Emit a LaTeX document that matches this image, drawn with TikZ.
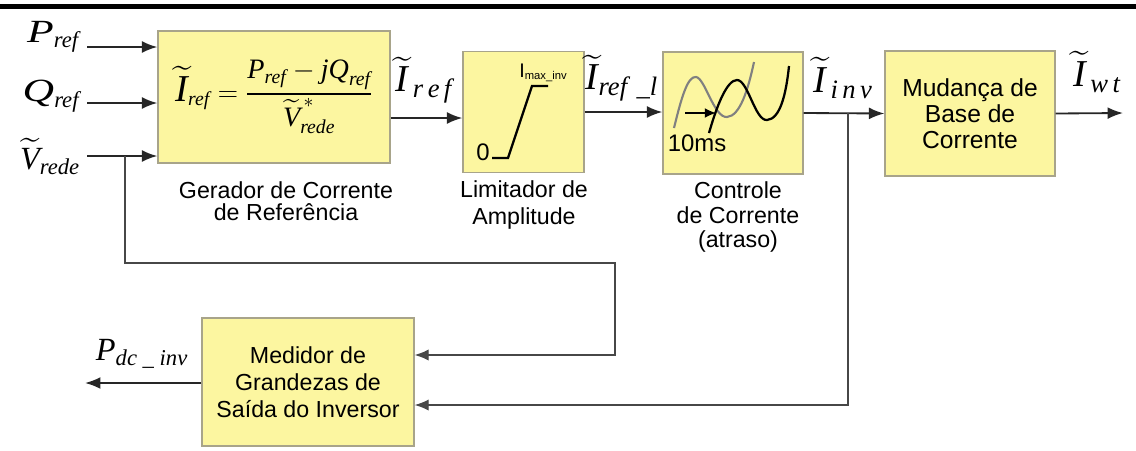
\documentclass[tikz,border=0pt]{standalone}
\usepackage{fix-cm}
\usepackage{amsmath}
\usepackage{graphicx}
\usepackage{fontspec}
\setmainfont{Liberation Serif}
\setsansfont{Liberation Sans}
\usetikzlibrary{calc, positioning, arrows.meta}
\definecolor{boxfill}{HTML}{FCF6A0}
\definecolor{boxline}{HTML}{A8A48A}
\definecolor{wire}{HTML}{262626}
\newcommand{\wideit}[1]{\scalebox{1.35}[1]{\textit{#1}}}

\begin{document}
\begin{tikzpicture}[x=0.025cm, y=-0.025cm,
    blk/.style={draw=boxline, line width=0.9pt, fill=boxfill, inner sep=0pt,
                align=center, font=\sffamily\fontsize{16.5}{19}\selectfont},
    capt/.style={align=center, inner sep=0pt, font=\sffamily\fontsize{16.5}{19}\selectfont},
    lbl/.style={inner sep=0pt, font=\fontsize{23}{26}\selectfont},
    ilbl/.style={inner sep=0pt, font=\fontsize{27}{30}\selectfont},
    arr/.style={-{Latex[length=11pt,width=8.5pt]}, line width=1.3pt, wire},
    fb/.style={-{Latex[length=10pt,width=8pt]}, line width=0.9pt, wire!85}
  ]
    \useasboundingbox (0,0) rectangle (1136,450);
    \fill[black] (0,4) rectangle (1136,8.5);

    % blocks
    \node[blk, minimum width=5.8cm, minimum height=3.3cm,
          font=\fontsize{20}{24}\selectfont] (gen) at (274,97)
      {$\mbox{\fontsize{27}{27}\selectfont$\widetilde{\textit{I}}$}_{\textit{ref}} = \dfrac{\textit{P}_{\textit{ref}} - \textit{jQ}_{\textit{ref}}}{{\widetilde{\textit{V}}_{\textit{rede}}}^{\,*}}$};
    \node[blk, minimum width=3.025cm, minimum height=3.025cm] (lim) at (523.5,112) {};
    \node[blk, minimum width=3.5cm, minimum height=3.05cm] (ctl) at (733,113) {};
    \node[blk, minimum width=4.25cm, minimum height=3.125cm,
          font=\sffamily\fontsize{17.5}{18.5}\selectfont] (mud) at (970,113.5)
      {Mudança de\\Base de\\Corrente};
    \node[blk, minimum width=5.3cm, minimum height=3.2cm] (med) at (308,382)
      {Medidor de\\Grandezas de\\Saída do Inversor};

    % captions
    \node[capt, font=\sffamily\fontsize{16.5}{15.5}\selectfont] (genc) at (286,201)
      {Gerador de Corrente\\de Referência};
    \node[capt] (limc) at (524,205) {Limitador de\\Amplitude};
    \node[capt, font=\sffamily\fontsize{16.5}{17.5}\selectfont] (ctlc) at (738,217)
      {Controle\\de Corrente\\(atraso)};

    % limiter curve
    \draw[line width=1.6pt] (492,158) -- (508,158) -- (532,86) -- (548,86);
    \node[inner sep=0pt, font=\sffamily\fontsize{17}{17}\selectfont] (zero) at (483,152) {0};
    \node[inner sep=0pt, anchor=base west, font=\sffamily\fontsize{14}{14}\selectfont] (imax) at (519,77)
      {I\raisebox{-2pt}{\fontsize{8}{8}\selectfont max\_inv}};

    % delay curves
    \draw[gray, line width=1.5pt] (674,128) .. controls (682,95) and (688,76) .. (696,77)
      .. controls (705,78) and (714,118) .. (727,117) .. controls (740,116) and (748,90) .. (754,62);
    \draw[black, line width=1.6pt] (709,133) .. controls (717,105) and (727,80) .. (737,80)
      .. controls (748,80) and (755,121) .. (767,120) .. controls (780,119) and (786,95) .. (789,66);
    \draw[-{Latex[length=8pt,width=7pt]}, line width=1pt] (685,113) -- (716,113);
    \node[inner sep=0pt, font=\sffamily\fontsize{17}{17}\selectfont] (tms) at (697,143) {10ms};

    % signal labels
    \node[lbl] (lp) at (53,37) {$\mbox{\wideit{P}}_{\textit{ref}}$};
    \node[lbl] (lq) at (51,96) {$\mbox{\wideit{Q}}_{\textit{ref}}$};
    \node[lbl] (lv) at (50,156) {$\widetilde{\textit{V}}_{\textit{rede}}$};
    \node[ilbl] (li1) at (424,80) {$\widetilde{\textit{I}}_{\,\textit{r\,e\,f}}$};
    \node[ilbl] (li2) at (622,78) {$\widetilde{\textit{I}}_{\textit{ref}\ \_\textit{l}}$};
    \node[ilbl] (li3) at (843,78) {$\widetilde{\textit{I}}_{\,\textit{i\,n\,v}}$};
    \node[ilbl] (li4) at (1097,72) {$\widetilde{\textit{I}}_{\,\textit{w\,t}}$};
    \node[lbl] (lpdc) at (142,354) {$\textit{P}_{\textit{dc\ \_\ inv}}$};

    % connections
    \coordinate (pin) at (87,47);
    \coordinate (qin) at (87,103);
    \coordinate (vin) at (87,156);
    \coordinate (vbr) at (125,156);
    \coordinate (fbr) at (615,263);
    \coordinate (ibr) at (848,113);
    \coordinate (iwt) at (1123,113);
    \coordinate (pdc) at (85,383);

    \draw[arr] (pin) -- (pin -| gen.west);
    \draw[arr] (qin) -- (qin -| gen.west);
    \draw[arr] (vin) -- (vin -| gen.west);
    \draw[arr] ([yshift=-0.525cm]gen.east) coordinate (g2l) -- (g2l -| lim.west);
    \draw[arr] (lim.east) -- (lim.east -| ctl.west);
    \draw[arr] (ctl.east) -- (mud.west);
    \draw[arr] (mud.east) -- (iwt);
    \draw[arr] (med.west |- pdc) -- (pdc);
    \draw[fb] (vbr) |- (fbr) |- ([yshift=0.675cm]med.east);
    \draw[fb] (ibr) |- ([yshift=-0.575cm]med.east);
  \end{tikzpicture}
\end{document}
